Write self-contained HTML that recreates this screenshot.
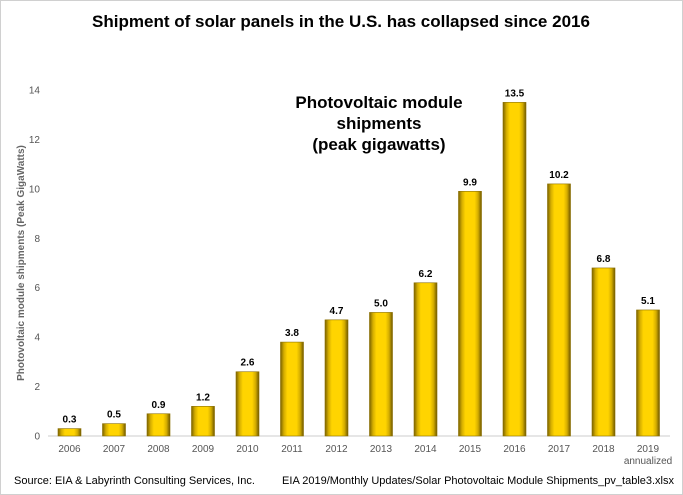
<!DOCTYPE html>
<html><head><meta charset="utf-8"><style>
body{margin:0;background:#fff;}
svg{display:block;font-family:"Liberation Sans",Arial,sans-serif;}
</style></head><body>
<svg width="683" height="495" viewBox="0 0 683 495">
<defs>
<linearGradient id="bg" x1="0" x2="1" y1="0" y2="0">
<stop offset="0" stop-color="#7a6200"/><stop offset="0.15" stop-color="#d4ad00"/><stop offset="0.3" stop-color="#ffd400"/><stop offset="0.7" stop-color="#ffd400"/><stop offset="0.85" stop-color="#d4ad00"/><stop offset="1" stop-color="#6e5800"/>
</linearGradient>
</defs>
<rect x="0.5" y="0.5" width="682" height="494" fill="#fff" stroke="#d0d0d0"/>
<text x="341" y="27" text-anchor="middle" font-size="17" font-weight="bold" fill="#000">Shipment of solar panels in the U.S. has collapsed since 2016</text>
<g id="yaxis"></g>
<text transform="translate(24,263) rotate(-90)" text-anchor="middle" font-size="10" font-weight="bold" fill="#666">Photovoltaic module shipments (Peak GigaWatts)</text>
<line x1="48" y1="436" x2="670" y2="436" stroke="#ccc"/>
<g id="bars"></g>
<text text-anchor="middle" font-size="17" font-weight="bold" fill="#000"><tspan x="379" y="108">Photovoltaic module</tspan><tspan x="379" y="129">shipments</tspan><tspan x="379" y="150">(peak gigawatts)</tspan></text>
<text x="14" y="484" font-size="11" fill="#000">Source: EIA &amp; Labyrinth Consulting Services, Inc.</text>
<text x="674" y="484" text-anchor="end" font-size="11" fill="#000">EIA 2019/Monthly Updates/Solar Photovoltaic Module Shipments_pv_table3.xlsx</text>
</svg>
<script>
const categories=["2006","2007","2008","2009","2010","2011","2012","2013","2014","2015","2016","2017","2018","2019"];
const values=[0.3,0.5,0.9,1.2,2.6,3.8,4.7,5.0,6.2,9.9,13.5,10.2,6.8,5.1];
const labels=["0.3","0.5","0.9","1.2","2.6","3.8","4.7","5.0","6.2","9.9","13.5","10.2","6.8","5.1"];
const yTicks=[0,2,4,6,8,10,12,14];
const NS="http://www.w3.org/2000/svg";
const y=v=>436-v*(346/14);
const x=i=>69.5+i*44.5;
const ya=document.getElementById('yaxis');
yTicks.forEach(t=>{
 const e=document.createElementNS(NS,'text');
 
 
 e.setAttribute('x',40);e.setAttribute('y',y(t)+3.5);e.setAttribute('text-anchor','end');
 e.setAttribute('font-size','10');e.setAttribute('fill','#555');e.textContent=t;ya.appendChild(e);
});
const g=document.getElementById('bars');
categories.forEach((c,i)=>{
 const r=document.createElementNS(NS,'rect');
 
 
 const top=y(values[i]);
 r.setAttribute('x',x(i)-11.5);r.setAttribute('y',top);r.setAttribute('width',23);r.setAttribute('height',436-top);
 r.setAttribute('fill','url(#bg)');r.setAttribute('stroke','#8a6e00');r.setAttribute('stroke-width','0.6');
 g.appendChild(r);
 const l=document.createElementNS(NS,'text');
 
 
 l.setAttribute('x',x(i));l.setAttribute('y',top-6);l.setAttribute('text-anchor','middle');
 l.setAttribute('font-size','10');l.setAttribute('font-weight','bold');l.textContent=labels[i];g.appendChild(l);
 const t=document.createElementNS(NS,'text');
 
 
 t.setAttribute('x',x(i));t.setAttribute('y',452);t.setAttribute('text-anchor','middle');
 t.setAttribute('font-size','10');t.setAttribute('fill','#555');t.textContent=c;g.appendChild(t);
});
const a=document.createElementNS(NS,'text');


a.setAttribute('x',x(13));a.setAttribute('y',464);a.setAttribute('text-anchor','middle');
a.setAttribute('font-size','10');a.setAttribute('fill','#555');a.textContent='annualized';g.appendChild(a);
</script>
</body></html>
